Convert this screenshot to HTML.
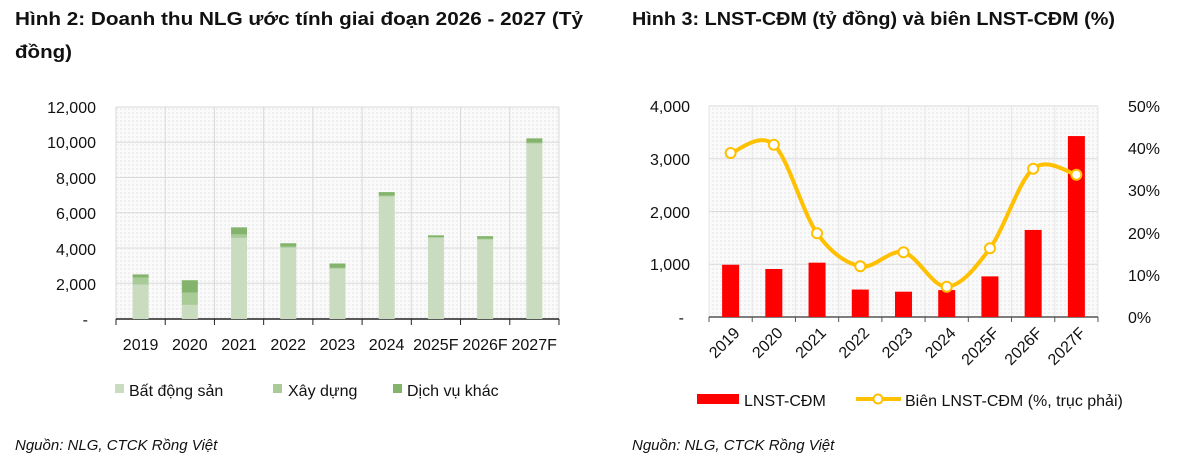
<!DOCTYPE html>
<html><head><meta charset="utf-8"><style>
body{margin:0;background:#fff;width:1203px;height:455px;overflow:hidden}
svg{font-family:"Liberation Sans",sans-serif;}
</style></head><body>
<svg id="s" width="1203" height="455" xmlns="http://www.w3.org/2000/svg">
<defs><pattern id="p" width="4" height="4" patternUnits="userSpaceOnUse"><rect width="4" height="4" fill="#fafafa"/><rect width="2" height="2" fill="#f0f0f0"/></pattern></defs>
<text x="15" y="25" font-size="18" font-weight="bold" fill="#111" textLength="568" lengthAdjust="spacingAndGlyphs">Hình 2: Doanh thu NLG ước tính giai đoạn 2026 - 2027 (Tỷ</text>
<text x="15" y="58" font-size="18" font-weight="bold" fill="#111" textLength="57" lengthAdjust="spacingAndGlyphs">đồng)</text>
<text x="632" y="25" font-size="18" font-weight="bold" fill="#111" textLength="483" lengthAdjust="spacingAndGlyphs">Hình 3: LNST-CĐM (tỷ đồng) và biên LNST-CĐM (%)</text>
<rect x="116" y="107" width="443" height="212" fill="url(#p)"/>
<rect x="709" y="106" width="389" height="211" fill="url(#p)"/>
<g id="g"></g>
<g font-size="16" fill="#111" text-anchor="end">
<text x="96" y="113">12,000</text><text x="96" y="148">10,000</text><text x="96" y="184">8,000</text><text x="96" y="219">6,000</text><text x="96" y="255">4,000</text><text x="96" y="290">2,000</text><text x="88" y="325">-</text>
<text x="690" y="112">4,000</text><text x="690" y="165">3,000</text><text x="690" y="218">2,000</text><text x="690" y="270">1,000</text><text x="684" y="323">-</text>
</g>
<g font-size="16" fill="#111">
<text x="1128" y="112">50%</text><text x="1128" y="154">40%</text><text x="1128" y="196">30%</text><text x="1128" y="239">20%</text><text x="1128" y="281">10%</text><text x="1128" y="323">0%</text>
</g>
<g font-size="16" fill="#111" text-anchor="middle">
<text x="140.6" y="350">2019</text><text x="189.8" y="350">2020</text><text x="239" y="350">2021</text><text x="288.2" y="350">2022</text><text x="337.4" y="350">2023</text><text x="386.6" y="350">2024</text><text x="435.8" y="350">2025F</text><text x="485" y="350">2026F</text><text x="534.2" y="350">2027F</text>
</g>
<g font-size="16" fill="#111" text-anchor="end" id="rl"></g>
<rect x="115" y="384" width="9" height="9" fill="#c9dcbf"/><text x="129" y="396" font-size="16" fill="#111">Bất động sản</text>
<rect x="273" y="384" width="9" height="9" fill="#a9cb98"/><text x="288" y="396" font-size="16" fill="#111">Xây dựng</text>
<rect x="393" y="384" width="9" height="9" fill="#84b46c"/><text x="407" y="396" font-size="16" fill="#111">Dịch vụ khác</text>
<rect x="697" y="394" width="42" height="10" fill="#ff0000"/><text x="744" y="406" font-size="16" fill="#111">LNST-CĐM</text>
<line x1="856" y1="399" x2="901" y2="399" stroke="#ffc000" stroke-width="4"/><circle cx="878" cy="399" r="4.5" fill="#fff" stroke="#ffc000" stroke-width="2"/>
<text x="905" y="406" font-size="16" fill="#111">Biên LNST-CĐM (%, trục phải)</text>
<text x="15" y="450" font-size="15" font-style="italic" fill="#111">Nguồn: NLG, CTCK Rồng Việt</text>
<text x="632" y="450" font-size="15" font-style="italic" fill="#111">Nguồn: NLG, CTCK Rồng Việt</text>
</svg>
<script>
var NS="http://www.w3.org/2000/svg",g=document.getElementById('g');
function el(t,a,p){var e=document.createElementNS(NS,t);for(var k in a)e.setAttribute(k,a[k]);(p||g).appendChild(e);return e;}
for(var i=0;i<6;i++){var y=107+i*35.25;el('line',{x1:116,x2:559,y1:y,y2:y,stroke:'#d9d9d9','stroke-width':1});}
for(var i=0;i<=9;i++){var x=116+i*49.22;el('line',{x1:x,x2:x,y1:107,y2:319,stroke:'#d9d9d9'});el('line',{x1:x,x2:x,y1:319,y2:325,stroke:'#222'});}
el('line',{x1:116,x2:559,y1:319,y2:319,stroke:'#222','stroke-width':1.5});
var L=[[1950,2350,2530],[800,1500,2200],[4600,4800,5200],[4050,4100,4300],[2850,2900,3150],[6950,7000,7200],[4600,4650,4750],[4500,4550,4700],[9950,10000,10250]];
var C=['#c9dcbf','#a9cb98','#84b46c'];
function Y(v){return 319-v*0.017625;}
L.forEach(function(d,i){var c=116+49.22*(i+.5),p=0;for(var j=0;j<3;j++){el('rect',{x:c-8,width:16,y:Y(d[j]),height:Y(p)-Y(d[j]),fill:C[j]});p=d[j];}});
for(var i=0;i<5;i++){var y=106+i*52.75;el('line',{x1:709,x2:1098,y1:y,y2:y,stroke:'#d9d9d9'});}
for(var i=0;i<=9;i++){var x=709+i*43.22;el('line',{x1:x,x2:x,y1:106,y2:317,stroke:'#e6e6e6'});el('line',{x1:x,x2:x,y1:317,y2:322,stroke:'#555'});}
el('line',{x1:709,x2:1098,y1:317,y2:317,stroke:'#555','stroke-width':1.5});
var R=[990,910,1030,520,480,510,770,1650,3430];
var P=[153,144.7,233.3,266.3,252.3,286.7,248.3,168.7,174.7];
var rl=document.getElementById('rl'),labs=['2019','2020','2021','2022','2023','2024','2025F','2026F','2027F'];
var pts=[];
R.forEach(function(v,i){var c=709+43.22*(i+.5);var y=317-v*211/4000;el('rect',{x:c-8.5,width:17,y:y,height:317-y,fill:'#ff0000'});pts.push([c,P[i]]);
var t=el('text',{x:c+10,y:334,transform:'rotate(-45 '+(c+10)+' 334)'},rl);t.textContent=labs[i];});
var d='M'+pts[0][0]+','+pts[0][1];
for(var i=0;i<pts.length-1;i++){var p0=pts[Math.max(i-1,0)],p1=pts[i],p2=pts[i+1],p3=pts[Math.min(i+2,pts.length-1)];
d+=' C'+(p1[0]+(p2[0]-p0[0])/6)+','+(p1[1]+(p2[1]-p0[1])/6)+' '+(p2[0]-(p3[0]-p1[0])/6)+','+(p2[1]-(p3[1]-p1[1])/6)+' '+p2[0]+','+p2[1];}
el('path',{d:d,fill:'none',stroke:'#ffc000','stroke-width':4});
pts.forEach(function(p){el('circle',{cx:p[0],cy:p[1],r:5,fill:'#fff',stroke:'#ffc000','stroke-width':2});});
</script>
</body></html>
